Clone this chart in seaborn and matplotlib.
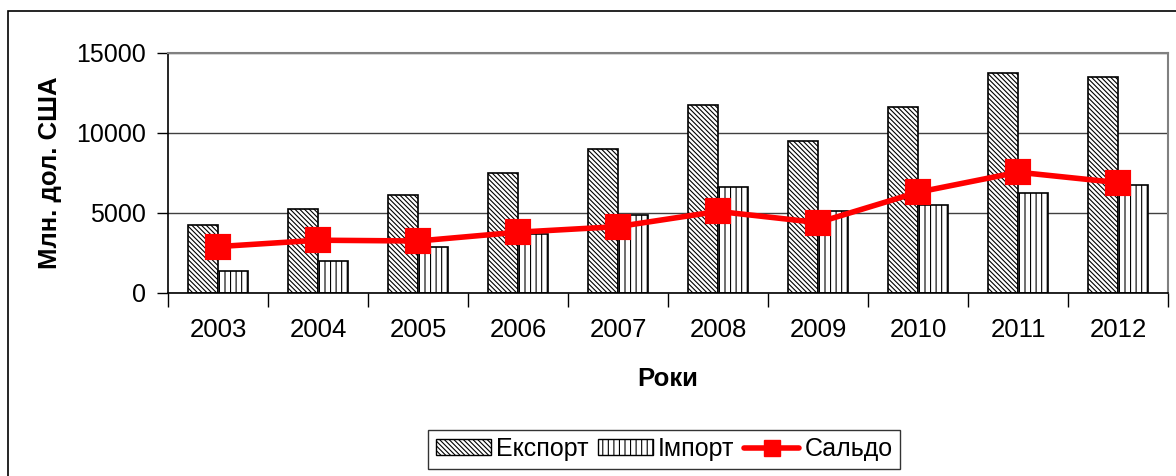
import matplotlib
matplotlib.use("Agg")
import matplotlib.pyplot as plt
import matplotlib.patches as mpatches
from matplotlib.lines import Line2D
from matplotlib.ticker import FixedLocator
import seaborn as sns
import pandas as pd

years = ["2003", "2004", "2005", "2006", "2007", "2008", "2009", "2010", "2011", "2012"]
export = [4250, 5250, 6150, 7500, 9000, 11750, 9500, 11600, 13750, 13500]
imports = [1400, 2000, 2850, 3700, 4900, 6650, 5100, 5500, 6250, 6750]
saldo = [2900, 3300, 3250, 3800, 4150, 5100, 4400, 6300, 7550, 6900]
series_names = ["Експорт", "Імпорт", "Сальдо"]
y_label = "Млн. дол. США"
x_label = "Роки"

sns.set_style("white")
plt.rcParams["font.family"] = ["Liberation Sans", "DejaVu Sans"]
plt.rcParams["hatch.linewidth"] = 0.8
plt.rcParams["text.color"] = "black"
plt.rcParams["axes.labelcolor"] = "black"
plt.rcParams["xtick.color"] = "black"
plt.rcParams["ytick.color"] = "black"

df = pd.DataFrame({
    "year": years * 2,
    "value": export + imports,
    "series": [series_names[0]] * len(years) + [series_names[1]] * len(years),
})

fig = plt.figure(figsize=(11.76, 4.76), dpi=100)
ax = fig.add_axes([168 / 1176, 1 - 293 / 476, 1000 / 1176, 240 / 476])

sns.barplot(data=df, x="year", y="value", hue="series", order=years,
            hue_order=series_names[:2], width=0.6, gap=0,
            palette=["white", "white"], edgecolor="black", linewidth=1.2,
            saturation=1, legend=False, ax=ax)
hatches = ["\\\\\\\\\\\\\\", "|||"]
for cont, h in zip(ax.containers, hatches):
    for p in cont:
        p.set_hatch(h)
        p.set_edgecolor("black")

sns.pointplot(x=years, y=saldo, order=years, color="#ff0000", marker="s",
              markersize=16, linewidth=4, ax=ax, zorder=5)

ax.set_ylim(0, 15000)
ax.set_xlim(-0.5, 9.5)
ax.set_yticks([0, 5000, 10000, 15000])
ax.yaxis.grid(True, color="#404040", linewidth=1)
ax.set_axisbelow(True)
ax.tick_params(axis="y", which="major", length=8, width=1, direction="out",
               left=True, labelsize=18, pad=8, color="black", labelcolor="black")
ax.tick_params(axis="x", which="major", length=0, labelsize=18.5, pad=18, labelcolor="black")
ax.xaxis.set_minor_locator(FixedLocator([i - 0.5 for i in range(len(years) + 1)]))
ax.tick_params(axis="x", which="minor", length=10, width=1, direction="out",
               bottom=True, color="black")

for s in ["left", "bottom"]:
    ax.spines[s].set_color("black")
    ax.spines[s].set_linewidth(1.2)
for s in ["top", "right"]:
    ax.spines[s].set_color("#808080")
    ax.spines[s].set_linewidth(1.5)
    ax.spines[s].set_visible(True)

ax.set_ylabel(y_label, fontsize=18.5, fontweight="bold", color="black")
ax.yaxis.set_label_coords(-0.106, 0.5)
ax.set_xlabel(x_label, fontsize=18.5, fontweight="bold", color="black")
ax.xaxis.set_label_coords(0.5, -0.31)

handles = [
    mpatches.Patch(facecolor="white", edgecolor="black", hatch=hatches[0], linewidth=1.0),
    mpatches.Patch(facecolor="white", edgecolor="black", hatch=hatches[1], linewidth=1.0),
    Line2D([], [], color="#ff0000", marker="s", markersize=12, linewidth=4),
]
leg = fig.legend(handles, series_names, loc="center", bbox_to_anchor=(664 / 1176, 1 - 449 / 476),
                 ncol=3, fontsize=18, frameon=True, fancybox=False, edgecolor="black",
                 handlelength=2.2, handleheight=0.6, handletextpad=0.2, columnspacing=0.4,
                 borderpad=0.3, borderaxespad=0)
leg.get_frame().set_linewidth(1.0)
for t in leg.get_texts():
    t.set_color("black")

border = mpatches.Rectangle((8 / 1176, -0.05), 1.1, 1 - 11 / 476 + 0.05, transform=fig.transFigure,
                            fill=False, edgecolor="black", linewidth=1.2)
fig.patches.append(border)

fig.savefig("out.png", dpi=100)
